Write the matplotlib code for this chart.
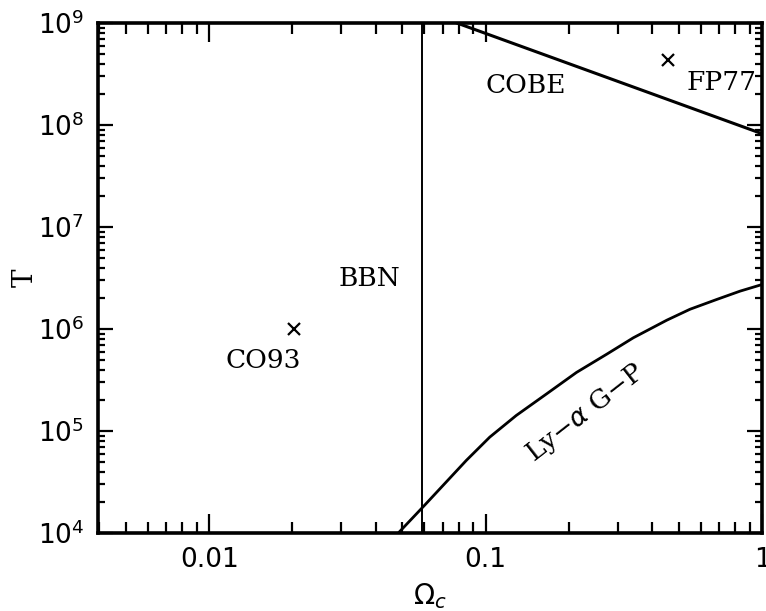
#!/usr/bin/env python3

import numpy as np
import matplotlib
matplotlib.use('Agg')
import matplotlib.pyplot as plt
from matplotlib.ticker import LogLocator, NullFormatter, FixedLocator, FixedFormatter

# BBN bound (vertical line)
bbn_omega = 0.059

# COBE bound
cobe_omega = [0.0786, 1.0]
cobe_T = [1.0e9, 8.2e7]

# Ly-alpha Gunn-Peterson curve
gp_omega = [0.0488, 0.0601, 0.0851, 0.1034, 0.129, 0.166, 0.213, 0.274,
			0.342, 0.452, 0.548, 0.686, 0.832, 1.0]
gp_T = [1.03e4, 1.87e4, 5.15e4, 8.7e4, 1.42e5, 2.31e5, 3.75e5, 5.66e5,
		8.2e5, 1.22e6, 1.56e6, 1.95e6, 2.35e6, 2.73e6]

# measurements
pt_names = ['CO93', 'FP77']
pt_omega = [0.0203, 0.457]
pt_T = [1.0e6, 4.3e8]

xticks = [0.01, 0.1, 1]
xticklabels = ['0.01', '0.1', '1']
yticks = [1e4, 1e5, 1e6, 1e7, 1e8, 1e9]
yticklabels = [r'$\mathregular{10^{%d}}$' % e for e in range(4, 10)]


def main():
	fig = plt.figure(figsize=(7.66, 6.11), dpi=100)
	ax = fig.add_axes([0.128, 0.1277, 0.867, 0.8347])

	ax.set_xscale('log')
	ax.set_yscale('log')
	ax.set_xlim(0.00396, 1.0)
	ax.set_ylim(1e4, 1e9)

	ax.axvline(bbn_omega, color='black', lw=1.4)
	ax.plot(cobe_omega, cobe_T, color='black', lw=2.2)
	ax.plot(gp_omega, gp_T, color='black', lw=2.0)
	ax.plot(pt_omega, pt_T, 'x', color='black', ms=9, mew=1.6)

	tf = dict(family='DejaVu Serif', fontsize=19, color='black')
	ax.text(0.0157, 4.9e5, pt_names[0], ha='center', va='center', **tf)
	ax.text(0.71, 2.6e8, pt_names[1], ha='center', va='center', **tf)
	ax.text(0.038, 3.1e6, 'BBN', ha='center', va='center', **tf)
	ax.text(0.14, 2.45e8, 'COBE', ha='center', va='center', **tf)
	ax.text(0.229, 1.5e5, r'Ly$-\alpha$ G$-$P', ha='center', va='center',
			rotation=38, **tf)

	ax.xaxis.set_major_locator(FixedLocator(xticks))
	ax.xaxis.set_major_formatter(FixedFormatter(xticklabels))
	ax.xaxis.set_minor_locator(LogLocator(base=10, subs=np.arange(2, 10)))
	ax.xaxis.set_minor_formatter(NullFormatter())
	ax.yaxis.set_major_locator(FixedLocator(yticks))
	ax.yaxis.set_major_formatter(FixedFormatter(yticklabels))
	ax.yaxis.set_minor_locator(LogLocator(base=10, subs=np.arange(2, 10)))
	ax.yaxis.set_minor_formatter(NullFormatter())

	ax.tick_params(which='both', direction='in', top=True, right=True,
				   width=1.6, labelsize=19)
	ax.tick_params(axis='x', which='major', length=14, pad=10)
	ax.tick_params(axis='x', which='minor', length=8)
	ax.tick_params(axis='y', which='major', length=11, pad=10)
	ax.tick_params(axis='y', which='minor', length=5)
	for s in ax.spines.values():
		s.set_linewidth(2.6)

	ax.set_xlabel(r'$\Omega_c$', fontsize=20, labelpad=6)
	ax.set_ylabel('T', fontsize=20, family='DejaVu Serif')
	ax.yaxis.set_label_coords(-0.09, 0.5)

	fig.savefig('out.png', dpi=100)


if __name__ == '__main__':
	main()
